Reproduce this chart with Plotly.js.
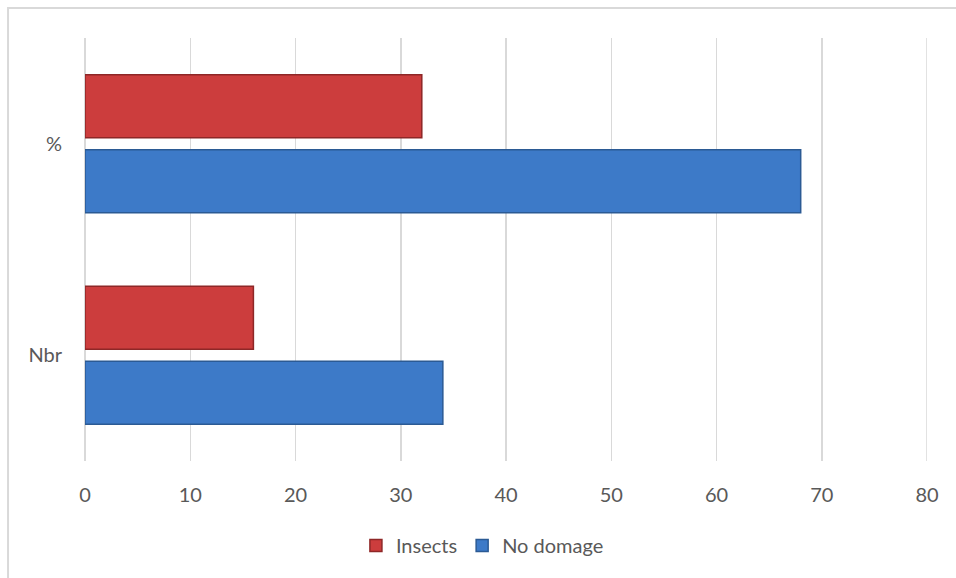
<!DOCTYPE html>
<html>
<head>
<meta charset="utf-8">
<script src="https://cdn.plot.ly/plotly-3.0.1.min.js"></script>
<style>html,body{margin:0;padding:0;background:#fff;}#chart{width:956px;height:578px;}</style>
</head>
<body>
<div id="chart"></div>
<script>
const categories = ['Nbr', '%'];
const insects = [16, 32];
const noDomage = [34, 68];
const xTicks = [0, 10, 20, 30, 40, 50, 60, 70, 80];

const traces = [
  {
    type: 'bar', orientation: 'h', name: 'No domage',
    y: categories, x: noDomage,
    marker: {color: '#3d7ac8', line: {color: '#2b5a94', width: 1.5}},
    hoverinfo: 'x+name'
  },
  {
    type: 'bar', orientation: 'h', name: 'Insects',
    y: categories, x: insects,
    marker: {color: '#cc3d3d', line: {color: '#8e2727', width: 1.5}},
    hoverinfo: 'x+name'
  }
];

const xMax = xTicks[xTicks.length - 1];

const layout = {
  width: 956, height: 578,
  margin: {l: 85, r: 29, t: 38, b: 117},
  paper_bgcolor: '#ffffff', plot_bgcolor: '#ffffff',
  font: {family: 'Lato, "Open Sans", sans-serif', color: '#595959', size: 20},
  barmode: 'group', bargap: 0.29, bargroupgap: 0.16,
  showlegend: true,
  legend: {orientation: 'h', x: 0.472, xanchor: 'center', y: -0.2, yanchor: 'middle',
           traceorder: 'reversed', font: {size: 20, color: '#595959'}, itemwidth: 30},
  xaxis: {
    range: [xTicks[0], xMax], tickvals: xTicks, ticktext: xTicks.map(String),
    showgrid: true, gridcolor: '#d9d9d9', gridwidth: 1.5,
    zeroline: true, zerolinecolor: '#d9d9d9', zerolinewidth: 1.5,
    showline: false, ticks: '', ticklabelstandoff: 20,
    tickfont: {size: 20, color: '#595959'}, fixedrange: true
  },
  yaxis: {
    type: 'category', showgrid: false, zeroline: false, showline: false,
    ticks: '', ticklabelstandoff: 22, tickfont: {size: 20, color: '#595959'}, fixedrange: true
  },
  shapes: [
    {type: 'rect', xref: 'paper', yref: 'paper', x0: -0.0914, x1: 1.05, y0: -0.3, y1: 1.0709,
     line: {color: '#d9d9d9', width: 2}, fillcolor: 'rgba(0,0,0,0)', layer: 'below'},
    {type: 'line', xref: 'x', yref: 'paper', x0: xMax, x1: xMax, y0: 0, y1: 1,
     line: {color: '#d9d9d9', width: 1.5}, layer: 'below'}
  ]
};

Plotly.newPlot('chart', traces, layout, {displayModeBar: false, staticPlot: true});
</script>
</body>
</html>
